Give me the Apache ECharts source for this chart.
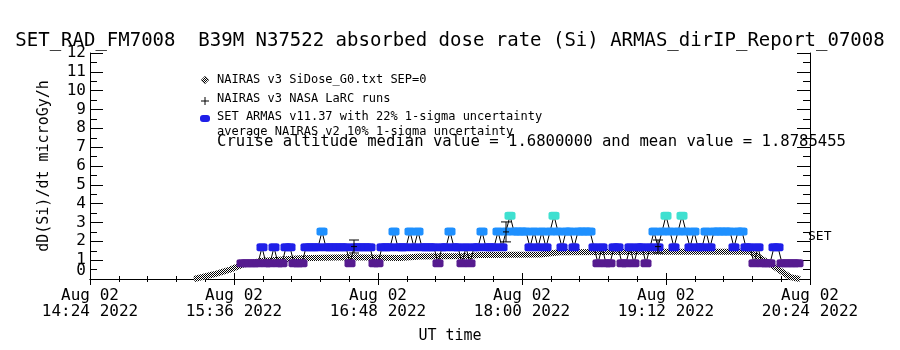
<!DOCTYPE html>
<html lang="en">
<head>
<meta charset="UTF-8" />
<title>SET_RAD_FM7008 ARMAS dose rate</title>
<script src="https://cdn.jsdelivr.net/npm/echarts@6.0.0/dist/echarts.min.js"></script>
</head>
<body style="margin:0;background:#fff">
<div id="main" style="width:900px;height:350px"></div>
<script type="text/javascript">
// times are UT hh:mm on Aug 02 2022
const xTicks = ['14:24', '15:36', '16:48', '18:00', '19:12', '20:24'];
const yTicks = [0, 1, 2, 3, 4, 5, 6, 7, 8, 9, 10, 11, 12];

// NAIRAS v3 SiDose_G0 model curve
const nairasTimes = ['15:16', '15:26', '15:34', '15:40', '15:49', '16:09', '16:34', '16:59', '17:09',
  '17:34', '17:39', '18:09', '18:19', '19:04', '19:29', '19:54', '20:04', '20:14', '20:19'];
const nairasDose = [0.0, 0.25, 0.5, 0.75, 0.95, 1.1, 1.15, 1.12, 1.2,
  1.22, 1.28, 1.3, 1.42, 1.45, 1.45, 1.45, 0.8, 0.1, 0.0];

// SET ARMAS v11.37, one value every 2 minutes from 15:40
const armasStart = '15:40';
const armasStep = 2;
const armasDose = [
  0.84, 0.84, 0.84, 0.84, 0.84, 1.68, 0.84, 0.84, 1.68, 0.84,
  0.84, 1.68, 1.68, 0.84, 0.84, 0.84, 1.68, 1.68, 1.68, 1.68,
  2.52, 1.68, 1.68, 1.68, 1.68, 1.68, 1.68, 0.84, 1.68, 1.68,
  1.68, 1.68, 1.68, 0.84, 0.84, 1.68, 1.68, 1.68, 2.52, 1.68,
  1.68, 1.68, 2.52, 1.68, 2.52, 1.68, 1.68, 1.68, 1.68, 0.84,
  1.68, 1.68, 2.52, 1.68, 1.68, 0.84, 1.68, 0.84, 1.68, 1.68,
  2.52, 1.68, 1.68, 1.68, 2.52, 1.68, 2.52, 3.36, 2.52, 2.52,
  2.52, 2.52, 1.68, 2.52, 1.68, 2.52, 1.68, 2.52, 3.36, 2.52,
  1.68, 2.52, 2.52, 1.68, 2.52, 2.52, 2.52, 2.52, 1.68, 0.84,
  1.68, 0.84, 0.84, 1.68, 1.68, 0.84, 0.84, 1.68, 0.84, 1.68,
  1.68, 0.84, 1.68, 2.52, 1.68, 2.52, 3.36, 2.52, 1.68, 2.52,
  3.36, 2.52, 1.68, 2.52, 1.68, 1.68, 2.52, 1.68, 2.52, 2.52,
  2.52, 2.52, 2.52, 1.68, 2.52, 2.52, 1.68, 1.68, 0.84, 1.68,
  0.84, 0.84, 0.84, 1.68, 1.68, 0.84, 0.84, 0.84, 0.84, 0.84
];

// NAIRAS v3 NASA LaRC runs with uncertainty bars
const larcTimes = ['16:36', '17:52', '19:08'];
const larcDose = [1.72, 2.5, 1.72];
const larcLow = [1.38, 1.97, 1.38];
const larcHigh = [2.07, 3.03, 2.07];

const doseColors = { '0.84': '#561b8f', '1.68': '#1f1fe8', '2.52': '#1e90ff', '3.36': '#3fe0d0' };

function toMin(s) {
  const p = s.split(':');
  return +p[0] * 60 + +p[1];
}
function fmtMin(v) {
  const h = Math.floor(v / 60), m = Math.round(v % 60);
  return 'Aug 02\n' + h + ':' + (m < 10 ? '0' : '') + m + ' 2022';
}

// checkered fill for the model band
const checker = document.createElement('canvas');
checker.width = 2; checker.height = 2;
const cctx = checker.getContext('2d');
cctx.fillStyle = '#fff'; cctx.fillRect(0, 0, 2, 2);
cctx.fillStyle = '#000'; cctx.fillRect(0, 0, 1, 1); cctx.fillRect(1, 1, 1, 1);
const checkerPattern = { image: checker, repeat: 'repeat' };

const nairasData = nairasTimes.map((t, i) => [toMin(t), nairasDose[i]]);
const armasData = armasDose.map((v, i) => ({
  value: [toMin(armasStart) + i * armasStep, v],
  itemStyle: { color: doseColors[v.toFixed(2)] }
}));
const larcData = larcTimes.map((t, i) => [toMin(t), larcLow[i], larcHigh[i], larcDose[i]]);

const FONT = 'DejaVu Sans Mono';
const xMin = toMin(xTicks[0]), xMax = toMin(xTicks[xTicks.length - 1]);

const xAxisBase = {
  type: 'value', min: xMin, max: xMax, interval: 72,
  axisLine: { lineStyle: { color: '#000', width: 1 } },
  axisTick: { inside: true, length: 6, lineStyle: { color: '#000' } },
  minorTick: { show: true, splitNumber: 5, length: 3, lineStyle: { color: '#000' } },
  splitLine: { show: false }
};
const yAxisBase = {
  type: 'value', min: yTicks[0], max: yTicks[yTicks.length - 1], interval: 1,
  axisLine: { show: true, lineStyle: { color: '#000', width: 1 } },
  axisTick: { inside: true, length: 13, lineStyle: { color: '#000' } },
  minorTick: { show: true, splitNumber: 2, length: 7, lineStyle: { color: '#000' } },
  splitLine: { show: false }
};
const yLabelFont = { fontFamily: FONT, fontSize: 16, color: '#000', margin: 4 };

let option = {
  animation: false,
  backgroundColor: '#fff',
  title: {
    text: 'SET_RAD_FM7008  B39M N37522 absorbed dose rate (Si) ARMAS_dirIP_Report_07008',
    left: 'center', top: 27,
    textStyle: { fontFamily: FONT, fontSize: 19, fontWeight: 'normal', color: '#000' }
  },
  grid: { left: 90, right: 90, top: 53, bottom: 71 },
  xAxis: [
    Object.assign({}, xAxisBase, {
      position: 'bottom',
      name: 'UT time', nameLocation: 'middle', nameGap: 50,
      nameTextStyle: { fontFamily: FONT, fontSize: 15, color: '#000' },
      axisLabel: {
        formatter: fmtMin, margin: 9, lineHeight: 16, showMinLabel: true, showMaxLabel: true,
        fontFamily: FONT, fontSize: 16, color: '#000'
      }
    }),
    Object.assign({}, xAxisBase, { position: 'top', axisLabel: { show: false } })
  ],
  yAxis: [
    Object.assign({}, yAxisBase, {
      position: 'left',
      name: 'dD(Si)/dt microGy/h', nameLocation: 'middle', nameGap: 38, nameRotate: 90,
      nameTextStyle: { fontFamily: FONT, fontSize: 15, color: '#000' },
      axisLabel: Object.assign({ customValues: yTicks.slice(1) }, yLabelFont)
    }),
    Object.assign({}, yAxisBase, { position: 'right', axisLabel: { show: false } }),
    // the zero label sits just above the bottom frame
    Object.assign({}, yAxisBase, {
      position: 'left',
      axisLine: { show: false }, axisTick: { show: false }, minorTick: { show: false },
      axisLabel: Object.assign({ customValues: [yTicks[0]], verticalAlign: 'bottom' }, yLabelFont)
    })
  ],
  series: [
    {
      name: 'NAIRAS v3 SiDose_G0.txt SEP=0',
      type: 'line', data: nairasData, symbol: 'none', z: 2,
      lineStyle: { color: checkerPattern, width: 6 }
    },
    {
      name: 'SET ARMAS v11.37',
      type: 'line', data: armasData, z: 3,
      symbol: 'roundRect', symbolSize: [11, 8], showAllSymbol: true,
      lineStyle: { color: '#000', width: 1 }
    },
    {
      name: 'NAIRAS v3 NASA LaRC runs',
      type: 'custom', data: larcData, z: 4,
      renderItem: function (params, api) {
        const lo = api.coord([api.value(0), api.value(1)]);
        const hi = api.coord([api.value(0), api.value(2)]);
        const c = api.coord([api.value(0), api.value(3)]);
        const st = { stroke: '#000', lineWidth: 1 };
        return {
          type: 'group',
          children: [
            { type: 'line', shape: { x1: lo[0], y1: lo[1], x2: hi[0], y2: hi[1] }, style: st },
            { type: 'line', shape: { x1: lo[0] - 5, y1: lo[1], x2: lo[0] + 5, y2: lo[1] }, style: st },
            { type: 'line', shape: { x1: hi[0] - 5, y1: hi[1], x2: hi[0] + 5, y2: hi[1] }, style: st },
            { type: 'line', shape: { x1: c[0] - 3, y1: c[1], x2: c[0] + 3, y2: c[1] }, style: st }
          ]
        };
      }
    }
  ],
  graphic: [
    { type: 'polygon', shape: { points: [[205, 76], [209, 80], [205, 84], [201, 80]] },
      style: { fill: checkerPattern, stroke: '#555', lineWidth: 0.5 } },
    { type: 'line', shape: { x1: 201, y1: 101, x2: 209, y2: 101 }, style: { stroke: '#000', lineWidth: 1 } },
    { type: 'line', shape: { x1: 205, y1: 97, x2: 205, y2: 105 }, style: { stroke: '#000', lineWidth: 1 } },
    { type: 'rect', shape: { x: 200, y: 115, width: 10, height: 7, r: 3 }, style: { fill: '#1f1fe8' } },
    { type: 'text', left: 217, top: 74,
      style: { text: 'NAIRAS v3 SiDose_G0.txt SEP=0', font: '12px "' + FONT + '"', fill: '#000' } },
    { type: 'text', left: 217, top: 93,
      style: { text: 'NAIRAS v3 NASA LaRC runs', font: '12px "' + FONT + '"', fill: '#000' } },
    { type: 'text', left: 217, top: 111,
      style: { text: 'SET ARMAS v11.37 with 22% 1-sigma uncertainty', font: '12px "' + FONT + '"', fill: '#000' } },
    { type: 'text', left: 217, top: 126,
      style: { text: 'average NAIRAS v2 10% 1-sigma uncertainty', font: '12px "' + FONT + '"', fill: '#000' } },
    { type: 'text', left: 217, top: 134,
      style: { text: 'Cruise altitude median value = 1.6800000 and mean value = 1.8785455',
        font: '15.6px "' + FONT + '"', fill: '#000' } },
    { type: 'text', left: 808, top: 230,
      style: { text: 'SET', font: '13px "' + FONT + '"', fill: '#000' } }
  ]
};

let myChart = echarts.init(document.getElementById('main'));
myChart.setOption(option);
</script>
</body>
</html>
